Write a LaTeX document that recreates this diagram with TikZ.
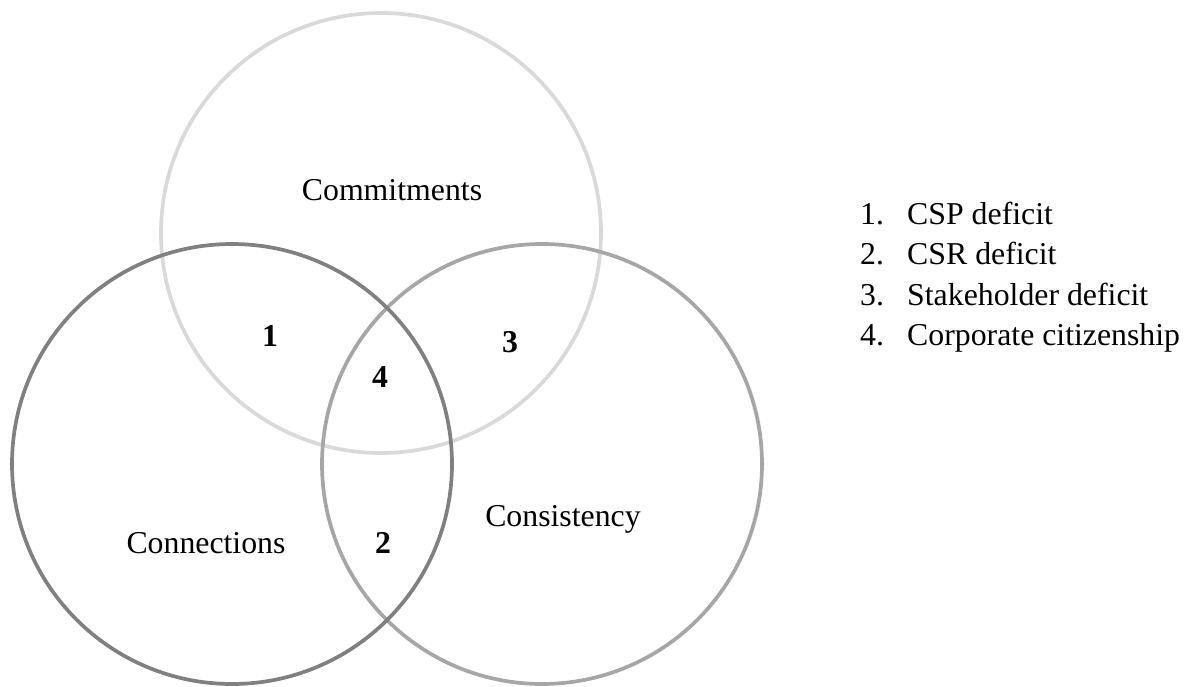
\documentclass[tikz,border=0pt]{standalone}
\usepackage{fontspec}
\setmainfont{Liberation Serif}
\begin{document}
\begin{tikzpicture}[x=1pt,y=-1pt,
  ring/.style={line width=3.7pt},
  lbl/.style={inner sep=0pt,anchor=base,font=\fontsize{31.8}{38}\selectfont},
  num/.style={inner sep=0pt,anchor=base,font=\fontsize{31.8}{38}\selectfont\bfseries},
  item/.style={inner sep=0pt,anchor=base west,font=\fontsize{31.8}{38}\selectfont}]
\useasboundingbox (0,0) rectangle (1194,687);
% the three sets: light, medium and dark grey outlines
\definecolor{lightring}{HTML}{D9D9D9}
\definecolor{midring}{HTML}{A6A6A6}
\definecolor{darkring}{HTML}{808080}
\draw[ring,lightring] (381,233) circle (220);
\draw[ring,midring] (542,464) circle (220);
\draw[ring,darkring] (232,464) circle (220);
% set names
\node[lbl] (commit) at (392,201) {Commitments};
\node[lbl] (connect) at (206,553) {Connections};
\node[lbl] (consist) at (563,526) {Consistency};
% overlap numbers
\node[num] (n1) at (270,346) {1};
\node[num] (n2) at (383,553) {2};
\node[num] (n3) at (510,352) {3};
\node[num] (n4) at (380,387) {4};
% key
\node[item] (k1n) at (860,225) {1.};
\node[item] (k1) at (907,225) {CSP deficit};
\node[item] (k2n) at (860,265) {2.};
\node[item] (k2) at (907,265) {CSR deficit};
\node[item] (k3n) at (860,305) {3.};
\node[item] (k3) at (907,305) {Stakeholder deficit};
\node[item] (k4n) at (860,345) {4.};
\node[item] (k4) at (907,345) {Corporate citizenship};
\end{tikzpicture}
\end{document}
